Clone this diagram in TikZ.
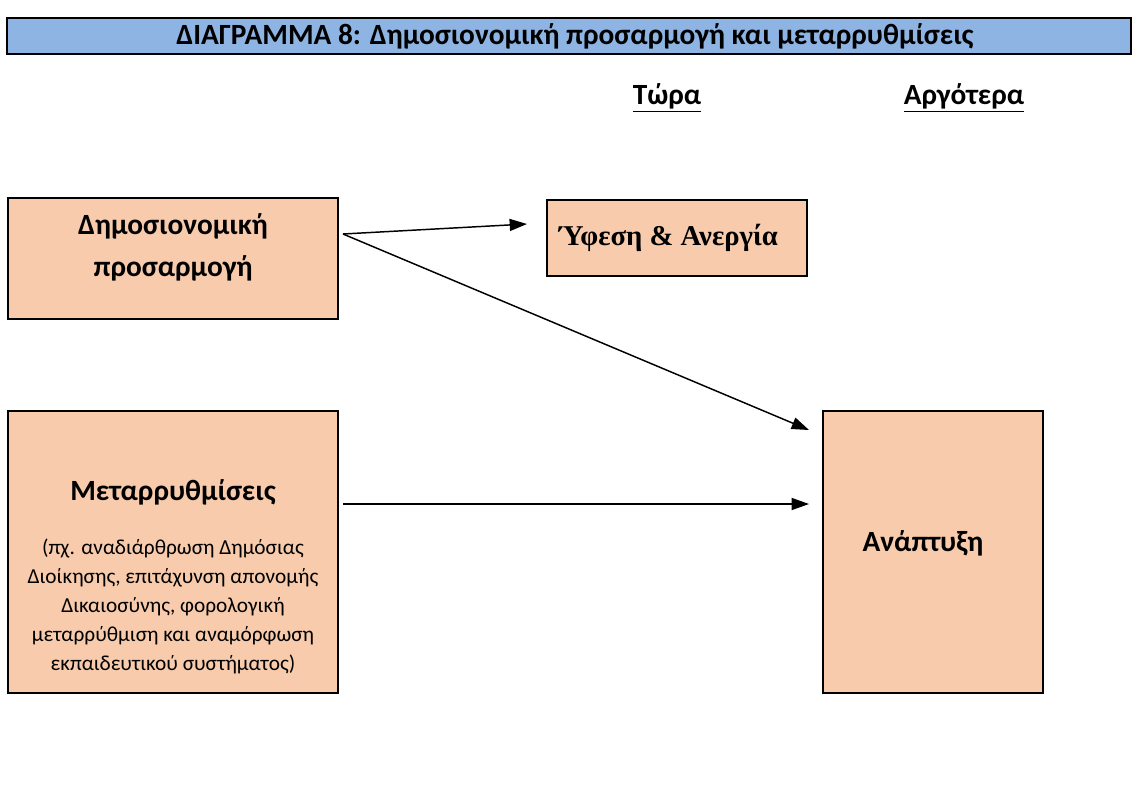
\documentclass[tikz,border=0pt]{standalone}
\usepackage{fontspec}
\setmainfont{Carlito}
\newfontfamily\timesfont{Liberation Serif}
\usetikzlibrary{arrows.meta,calc}
\definecolor{titleblue}{HTML}{8DB4E2}
\definecolor{peach}{HTML}{F7CBAC}
\tikzset{
  box/.style={draw=black, line width=1.5pt, fill=peach, inner sep=0pt},
  boxtext/.style={font=\bfseries\fontsize{22}{31.5}\selectfont, align=center},
  smalltext/.style={font=\fontsize{16}{21.75}\selectfont, align=center},
  link/.style={line width=1.1pt, -{Triangle[length=13pt,width=9pt]}},
}
\begin{document}
\begin{tikzpicture}[x=0.75pt, y=-0.75pt]
    \useasboundingbox (0,0) rectangle (1134,792);
    % title bar
    \node[draw=black, line width=1.5pt, fill=titleblue, minimum width=1124*0.75pt,
          minimum height=36*0.75pt, inner sep=0pt,
          font=\bfseries\fontsize{22}{24}\selectfont] (title) at (569,36)
        {\hspace*{9pt}ΔΙΑΓΡΑΜΜΑ 8: Δημοσιονομική προσαρμογή και μεταρρυθμίσεις};
    % column heads
    \node[boxtext] (now) at (667,98) {\underline{Τώρα}};
    \node[boxtext] (later) at (964,98) {\underline{Αργότερα}};
    % boxes
    \node[box, minimum width=330*0.75pt, minimum height=121*0.75pt] (fiscal) at (173,258.5) {};
    \node[box, minimum width=260*0.75pt, minimum height=76*0.75pt,
          font=\timesfont\bfseries\fontsize{21.5}{24}\selectfont] (recession) at (677,238)
        {\hspace*{-13pt}Ύφεση \& Ανεργία};
    \node[box, minimum width=330*0.75pt, minimum height=282*0.75pt] (reforms) at (173,552) {};
    \node[box, minimum width=220*0.75pt, minimum height=282*0.75pt] (growth) at (933,552) {};
    % box texts
    \node[boxtext] (fiscaltext) at (173,247) {Δημοσιονομική\\προσαρμογή};
    \node[boxtext] (reformstitle) at (173,492) {Μεταρρυθμίσεις};
    \node[smalltext] (reformsnote) at (173,606) {(πχ. αναδιάρθρωση Δημόσιας\\Διοίκησης, επιτάχυνση απονομής\\Δικαιοσύνης, φορολογική\\μεταρρύθμιση και αναμόρφωση\\εκπαιδευτικού συστήματος)};
    \node[boxtext] (growthtext) at (923,543) {Ανάπτυξη};
    % arrows
    \coordinate (fork) at ($(fiscal.east)+(4,-24.5)$);
    \coordinate (reformsout) at ($(reforms.east)+(4,-48)$);
    \draw[link] (fork) -- ($(recession.west)+(-19,-14)$);
    \draw[link] (fork) -- ($(growth.north west)+(-13,20)$);
    \draw[link] (reformsout) -- (reformsout -| {$(growth.west)+(-13,0)$});
\end{tikzpicture}
\end{document}
